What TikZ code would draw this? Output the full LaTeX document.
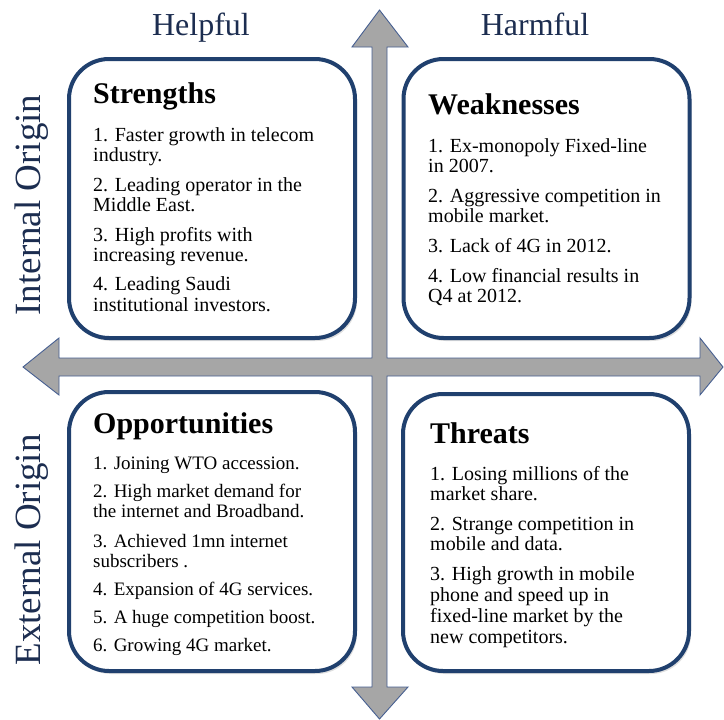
\documentclass[tikz,border=0pt]{standalone}
\usepackage{fontspec}
\setmainfont{Liberation Serif}
\usetikzlibrary{shadows}
\definecolor{boxblue}{RGB}{32,64,110}
\definecolor{arrowgray}{RGB}{166,166,166}
\definecolor{arrowedge}{RGB}{70,95,145}
\definecolor{labelcol}{RGB}{28,45,80}
\tikzset{
 quad/.style={draw=boxblue, line width=4pt, rounded corners=40pt, fill=white,
   minimum width=286pt, minimum height=279pt, inner sep=0pt,
   drop shadow={opacity=0.25, shadow xshift=2pt, shadow yshift=-3pt}},
 axislabel/.style={font=\fontsize{32}{36}\selectfont, text=labelcol, anchor=base, inner sep=0pt},
 sidelabel/.style={font=\fontsize{37}{40}\selectfont, text=labelcol, anchor=base, rotate=90, inner sep=0pt},
 quadtitle/.style={font=\fontsize{30}{34}\selectfont\bfseries, anchor=base west, inner sep=0pt},
 item/.style={font=\fontsize{20}{22}\selectfont, anchor=base west, inner sep=0pt},
 itemsm/.style={font=\fontsize{19}{21}\selectfont, anchor=base west, inner sep=0pt},
 cross/.style={fill=arrowgray, draw=arrowedge, line width=0.9pt, line join=miter},
}
\begin{document}
\begin{tikzpicture}[x=1pt,y=-1pt]
\useasboundingbox (0,0) rectangle (724,720);
% cross arrows
\draw[cross] (379.5,10) -- (408,47) -- (387,47) -- (387,358) -- (700,358) -- (700,338)
  -- (723,367) -- (700,395) -- (700,376) -- (387,376) -- (387,687) -- (408,687)
  -- (379.5,719) -- (352,687) -- (372,687) -- (372,376) -- (59,376) -- (59,395)
  -- (23,367) -- (59,338) -- (59,358) -- (372,358) -- (372,47) -- (352,47) -- cycle;
% boxes
\node[quad] (S) at (212,198.5) {};
\node[quad] (W) at (546.5,198.5) {};
\node[quad] (O) at (212,531.5) {};
\node[quad, minimum height=277pt] (T) at (546,532.5) {};
% axis labels
\node[axislabel] (helpful) at (201,35) {Helpful};
\node[axislabel] (harmful) at (535,35) {Harmful};
\node[sidelabel] (internal) at (40,205) {Internal Origin};
\node[sidelabel] (external) at (40,550) {External Origin};
% titles
\node[quadtitle] (St) at (93,103) {Strengths};
\node[quadtitle] (Wt) at (428,114) {Weaknesses};
\node[quadtitle] (Ot) at (93,433) {Opportunities};
\node[quadtitle] (Tt) at (430,443) {Threats};
% items
\foreach \yy/\txt [count=\i] in {141/{1. Faster growth in telecom}, 161/{industry.},
  191/{2. Leading operator in the}, 211/{Middle East.}, 241/{3. High profits with},
  261/{increasing revenue.}, 290/{4. Leading Saudi}, 311/{institutional investors.}}
  {\node[item] (s\i) at (93,\yy) {\txt};}
\foreach \yy/\txt [count=\i] in {152/{1. Ex-monopoly Fixed-line}, 172/{in 2007.},
  202/{2. Aggressive competition in}, 222/{mobile market.}, 252/{3. Lack of 4G in 2012.},
  282/{4. Low financial results in}, 302/{Q4 at 2012.}}
  {\node[item] (w\i) at (428,\yy) {\txt};}
\foreach \yy/\txt [count=\i] in {469/{1. Joining WTO accession.}, 497/{2. High market demand for},
  517/{the internet and Broadband.}, 547/{3. Achieved 1mn internet}, 567/{subscribers .},
  595/{4. Expansion of 4G services.}, 623/{5. A huge competition boost.}, 651/{6. Growing 4G market.}}
  {\node[itemsm] (o\i) at (93,\yy) {\txt};}
\foreach \yy/\txt [count=\i] in {480/{1. Losing millions of the}, 500/{market share.},
  530/{2. Strange competition in}, 550/{mobile and data.}, 580/{3. High growth in mobile},
  601/{phone and speed up in}, 622/{fixed-line market by the}, 643/{new competitors.}}
  {\node[item] (t\i) at (430,\yy) {\txt};}
\end{tikzpicture}
\end{document}
